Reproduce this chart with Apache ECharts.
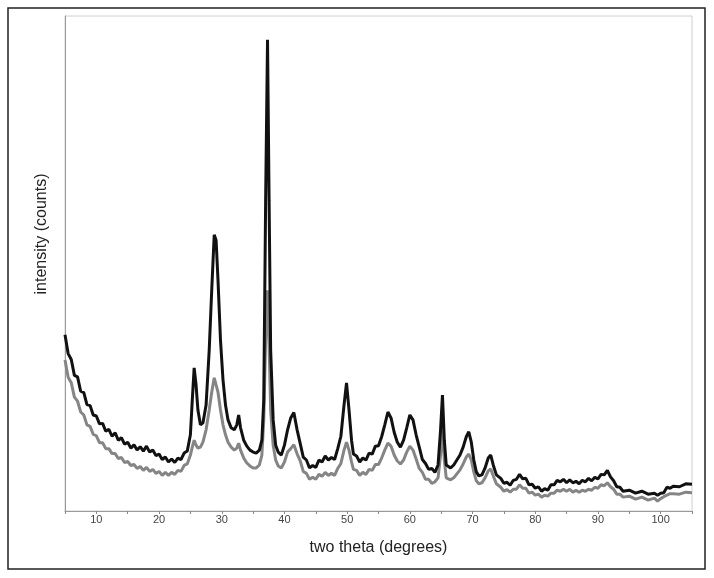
<!DOCTYPE html>
<html>
<head>
<meta charset="utf-8">
<script src="https://cdn.jsdelivr.net/npm/echarts@6/dist/echarts.min.js"></script>
<style>
  html, body { margin: 0; padding: 0; background: #fff; }
  #box { width: 714px; height: 578px; }
</style>
</head>
<body>
<div id="box"></div>
<script>
// diffraction angles (degrees two theta)
const twoTheta = [
  5, 5.5, 6, 6.5, 7, 7.5, 8, 8.5, 9, 9.5,
  10, 10.5, 11, 11.5, 12, 12.5, 13, 13.5, 14, 14.5,
  15, 15.5, 16, 16.5, 17, 17.5, 18, 18.5, 19, 19.5,
  20, 20.5, 21, 21.5, 22, 22.5, 23, 23.5, 24, 24.5,
  25, 25.3, 25.6, 25.9, 26.2, 26.6, 27, 27.5, 28, 28.4,
  28.8, 29.1, 29.4, 29.8, 30.2, 30.6, 31, 31.5, 32, 32.4,
  32.7, 33, 33.5, 34, 34.5, 35, 35.5, 36, 36.4, 36.7,
  37, 37.3, 37.55, 37.8, 38.2, 38.6, 39, 39.5, 40, 40.5,
  41, 41.5, 42, 42.5, 43, 43.5, 44, 44.5, 45, 45.5,
  46, 46.5, 47, 47.5, 48, 48.5, 49, 49.5, 49.9, 50.3,
  50.7, 51, 51.5, 52, 52.5, 53, 53.5, 54, 54.5, 55,
  55.5, 56, 56.5, 57, 57.5, 58, 58.5, 59, 59.5, 60,
  60.5, 61, 61.5, 62, 62.5, 63, 63.5, 64, 64.5, 64.9,
  65.2, 65.5, 65.8, 66.5, 67, 67.5, 68, 68.5, 69, 69.4,
  69.8, 70.2, 70.6, 71, 71.5, 72, 72.5, 72.9, 73.3, 73.8,
  74.5, 75, 75.5, 76, 76.5, 77, 77.5, 78, 78.5, 79,
  79.5, 80, 80.5, 81, 81.5, 82, 82.5, 83, 83.5, 84,
  84.5, 85, 85.5, 86, 86.5, 87, 87.5, 88, 88.5, 89,
  89.5, 90, 90.5, 91, 91.5, 92, 92.5, 93, 93.5, 94,
  95, 96, 97, 98, 99, 99.5, 100, 100.5, 101, 101.5,
  102, 103, 104, 105
];

// black pattern
const countsBlack = [
  35.6, 31.8, 30.6, 27.4, 27.1, 24.2, 23.9, 21.5, 21.3, 19.4,
  19.2, 17.6, 17.7, 16.1, 16.5, 15.1, 15.8, 14.3, 14.8, 13.5,
  13.9, 12.7, 13.4, 12.3, 13.0, 12.1, 13.1, 11.9, 12.3, 11.2,
  11.5, 10.4, 10.9, 9.9, 10.5, 9.8, 10.7, 10.4, 11.7, 12.1,
  15.4, 22.4, 28.9, 25.5, 20.4, 17.4, 17.8, 21.4, 32.5, 44.6,
  55.8, 54.7, 46.7, 34.5, 26.5, 21.4, 18.4, 16.8, 16.4, 17.4,
  19.4, 16.8, 14.3, 13.1, 12.3, 11.9, 11.7, 12.3, 14.3, 22.4,
  62.8, 95.2, 62.8, 32.5, 18.4, 13.3, 11.9, 11.3, 13.3, 16.4,
  18.8, 19.9, 16.5, 13.7, 10.9, 10.3, 8.7, 9.2, 8.8, 10.3,
  9.9, 11.1, 10.3, 10.8, 10.4, 12.6, 15.1, 21.4, 25.9, 20.4,
  14.3, 11.5, 11.1, 9.9, 10.7, 10.3, 11.7, 11.5, 13.1, 13.2,
  15.0, 17.4, 20.0, 18.8, 15.9, 13.9, 12.9, 14.3, 16.8, 19.4,
  18.4, 15.4, 12.9, 10.4, 9.6, 8.4, 8.6, 7.8, 9.3, 16.4,
  23.4, 14.3, 9.3, 8.7, 9.3, 10.3, 11.3, 12.9, 15.0, 16.0,
  13.9, 10.3, 7.9, 7.1, 7.3, 8.7, 10.7, 11.3, 9.3, 7.3,
  6.6, 5.6, 5.8, 5.2, 6.2, 6.4, 7.4, 6.5, 6.6, 5.3,
  5.4, 4.6, 4.9, 4.0, 4.5, 4.2, 5.3, 5.3, 6.2, 5.9,
  6.4, 5.7, 6.3, 5.7, 6.0, 5.5, 6.2, 5.9, 6.6, 6.1,
  6.8, 6.5, 7.4, 7.3, 8.2, 6.9, 6.1, 4.9, 4.8, 4.0,
  4.2, 3.6, 4.0, 3.4, 3.6, 3.2, 3.6, 3.7, 4.8, 4.6,
  5.0, 4.9, 5.5, 5.4
];

// grey pattern
const countsGrey = [
  30.5, 27.0, 25.9, 23.0, 22.2, 20.0, 19.4, 17.4, 17.1, 15.5,
  15.2, 13.8, 13.8, 12.6, 12.6, 11.6, 11.6, 10.6, 10.8, 9.8,
  10.0, 9.2, 9.4, 8.6, 9.0, 8.2, 8.8, 8.0, 8.4, 7.6,
  8.0, 7.2, 7.8, 7.2, 7.8, 7.4, 8.2, 8.0, 9.2, 9.5,
  11.3, 12.9, 14.3, 13.3, 12.7, 12.9, 13.9, 16.4, 20.4, 24.0,
  26.9, 26.5, 24.0, 20.4, 17.4, 15.4, 13.9, 12.9, 12.3, 12.7,
  13.7, 12.3, 10.7, 9.7, 9.1, 8.7, 8.7, 9.3, 11.3, 18.4,
  34.5, 44.6, 33.5, 20.4, 13.3, 10.3, 9.1, 8.7, 9.9, 11.9,
  12.6, 13.4, 11.6, 10.2, 8.0, 7.6, 6.4, 6.8, 6.4, 7.4,
  7.0, 7.8, 7.2, 7.6, 7.2, 8.6, 9.6, 12.3, 13.9, 12.3,
  9.9, 8.4, 8.2, 7.2, 7.8, 7.4, 8.4, 8.2, 9.4, 9.4,
  10.7, 12.3, 13.7, 13.1, 11.3, 10.1, 9.5, 10.3, 11.9, 13.1,
  12.3, 10.5, 8.6, 7.8, 6.4, 6.4, 5.6, 5.9, 6.7, 11.3,
  17.4, 10.3, 6.7, 6.3, 6.7, 7.5, 8.3, 9.5, 10.9, 11.5,
  10.3, 7.9, 6.1, 5.5, 5.7, 6.7, 8.1, 8.5, 7.1, 5.5,
  4.8, 4.0, 4.3, 3.8, 4.4, 4.4, 5.3, 4.6, 4.6, 3.6,
  3.8, 3.2, 3.4, 2.8, 3.2, 3.0, 3.6, 3.6, 4.2, 4.0,
  4.4, 4.0, 4.4, 3.8, 4.2, 3.8, 4.2, 4.0, 4.4, 4.2,
  4.8, 4.6, 5.3, 5.1, 5.7, 4.9, 4.4, 3.4, 3.4, 2.8,
  3.0, 2.4, 2.8, 2.2, 2.6, 2.0, 2.5, 2.9, 3.2, 3.5,
  3.5, 3.4, 3.8, 3.7
];

const xTicks = [10, 20, 30, 40, 50, 60, 70, 80, 90, 100];

const pairs = ys => twoTheta.map((t, i) => [t, ys[i]]);

const option = {
  backgroundColor: '#fff',
  animation: false,
  grid: {
    left: 65,
    right: 22,
    top: 16,
    bottom: 67,
    show: true,
    borderColor: '#d0d0d0',
    borderWidth: 1
  },
  graphic: [
    {
      type: 'rect',
      shape: { x: 8, y: 8, width: 697, height: 561 },
      style: { fill: 'none', stroke: '#222', lineWidth: 1.5 },
      silent: true
    },
    {
      type: 'text',
      x: 42,
      y: 234,
      rotation: Math.PI / 2,
      style: {
        text: 'intensity (counts)',
        fill: '#222',
        font: '16px "Liberation Sans", Arial, sans-serif',
        align: 'center',
        verticalAlign: 'middle'
      },
      silent: true
    }
  ],
  xAxis: {
    type: 'value',
    min: 5,
    max: 105,
    interval: 5,
    name: 'two theta (degrees)',
    nameLocation: 'middle',
    nameGap: 29,
    nameTextStyle: {
      fontSize: 16,
      color: '#222',
      fontFamily: '"Liberation Sans", Arial, sans-serif'
    },
    axisLine: { show: true, lineStyle: { color: '#9a9a9a', width: 1 } },
    axisTick: { show: true, length: 3, lineStyle: { color: '#888' } },
    axisLabel: {
      margin: 3,
      fontSize: 11,
      color: '#444',
      fontFamily: '"Liberation Sans", Arial, sans-serif',
      formatter: v => (xTicks.includes(v) ? String(v) : '')
    },
    splitLine: { show: false }
  },
  yAxis: {
    type: 'value',
    min: 0,
    max: 100,
    axisLine: { show: true, lineStyle: { color: '#9a9a9a', width: 1 } },
    axisTick: { show: false },
    axisLabel: { show: false },
    splitLine: { show: false }
  },
  series: [
    {
      name: 'grey',
      type: 'line',
      data: pairs(countsGrey),
      showSymbol: false,
      lineStyle: { color: '#858585', width: 3 }
    },
    {
      name: 'black',
      type: 'line',
      data: pairs(countsBlack),
      showSymbol: false,
      lineStyle: { color: '#111', width: 3 }
    }
  ]
};

const chart = echarts.init(document.getElementById('box'));
chart.setOption(option);
</script>
</body>
</html>
